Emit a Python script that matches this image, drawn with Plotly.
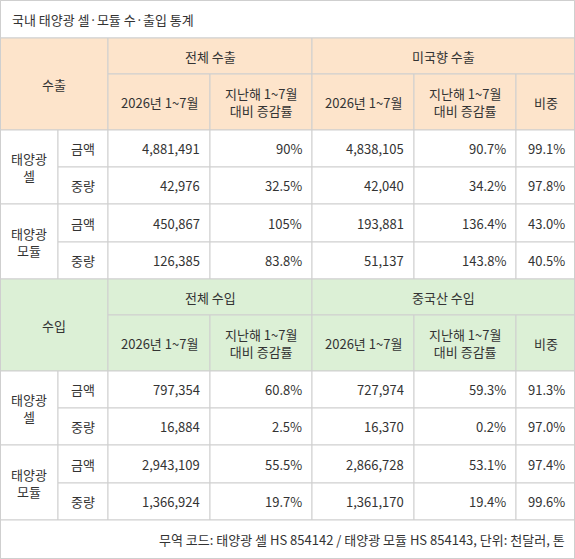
import plotly.graph_objects as go

title = "국내 태양광 셀·모듈 수·출입 통계"
footer = "무역 코드: 태양광 셀 HS 854142 / 태양광 모듈 HS 854143, 단위: 천달러, 톤"
products = ["태양광<br>셀", "태양광<br>모듈"]
measures = ["금액", "중량"]
col_heads = ["2026년 1~7월", "지난해 1~7월<br>대비 증감률", "2026년 1~7월", "지난해 1~7월<br>대비 증감률", "비중"]
export_groups = ["전체 수출", "미국향 수출"]
import_groups = ["전체 수입", "중국산 수입"]
export_rows = [
    ["4,881,491", "90%", "4,838,105", "90.7%", "99.1%"],
    ["42,976", "32.5%", "42,040", "34.2%", "97.8%"],
    ["450,867", "105%", "193,881", "136.4%", "43.0%"],
    ["126,385", "83.8%", "51,137", "143.8%", "40.5%"],
]
import_rows = [
    ["797,354", "60.8%", "727,974", "59.3%", "91.3%"],
    ["16,884", "2.5%", "16,370", "0.2%", "97.0%"],
    ["2,943,109", "55.5%", "2,866,728", "53.1%", "97.4%"],
    ["1,366,924", "19.7%", "1,361,170", "19.4%", "99.6%"],
]

xs = [0, 58, 108, 210, 312, 414, 516, 575]
W, H = 575, 559
TXT = "#333333"
LINE = "#cfcfcf"
shapes, ann = [], []

def cell(x0, x1, y0, y1, text, fill="white", align="center"):
    shapes.append(dict(type="rect", x0=x0, x1=x1, y0=y0, y1=y1, fillcolor=fill,
                       line=dict(color=LINE, width=1), layer="below"))
    if text:
        f = dict(size=13, color=TXT)
        if align == "right":
            ann.append(dict(x=x1 - 8, y=(y0 + y1) / 2, text=text, xanchor="right", showarrow=False, font=f))
        elif align == "left":
            ann.append(dict(x=x0 + 10, y=(y0 + y1) / 2, text=text, xanchor="left", showarrow=False, font=f))
        else:
            ann.append(dict(x=(x0 + x1) / 2, y=(y0 + y1) / 2, text=text, showarrow=False, font=f))

cell(0, W, 0, 38, title, align="left")

def section(top, label, groups, rows, fill):
    h1, h2 = top + 36, top + 92
    cell(0, xs[2], top, h2, label, fill)
    cell(xs[2], xs[4], top, h1, groups[0], fill)
    cell(xs[4], xs[7], top, h1, groups[1], fill)
    for i, h in enumerate(col_heads):
        cell(xs[2 + i], xs[3 + i], h1, h2, h, fill)
    ys = [h2, h2 + 37, h2 + 74, h2 + 112, h2 + 149]
    for p in range(2):
        cell(xs[0], xs[1], ys[2 * p], ys[2 * p + 2], products[p])
        for m in range(2):
            r = 2 * p + m
            cell(xs[1], xs[2], ys[r], ys[r + 1], measures[m])
            for c, v in enumerate(rows[r]):
                cell(xs[2 + c], xs[3 + c], ys[r], ys[r + 1], v, align="right")
    return ys[-1]

b = section(38, "수출", export_groups, export_rows, "#fde4cb")
b = section(b, "수입", import_groups, import_rows, "#dcf0d6")
cell(0, W, b, H, footer, align="right")
shapes.append(dict(type="rect", x0=0.5, x1=W - 0.5, y0=0.5, y1=H - 0.5, line=dict(color=LINE, width=1)))

fig = go.Figure()
fig.update_layout(width=W, height=H, margin=dict(l=0, r=0, t=0, b=0),
                  paper_bgcolor="white", plot_bgcolor="white",
                  font=dict(family="Noto Sans CJK KR", size=13, color=TXT),
                  xaxis=dict(range=[0, W], visible=False, fixedrange=True),
                  yaxis=dict(range=[H, 0], visible=False, fixedrange=True),
                  shapes=shapes, annotations=ann, showlegend=False)
fig.write_html("out.html", config={"displayModeBar": False})
with open("out.html", encoding="utf-8") as fh:
    html = fh.read()
html = html.replace("<head>", "<head><style>html,body{margin:0;padding:0;overflow:hidden}</style>", 1)
with open("out.html", "w", encoding="utf-8") as fh:
    fh.write(html)
